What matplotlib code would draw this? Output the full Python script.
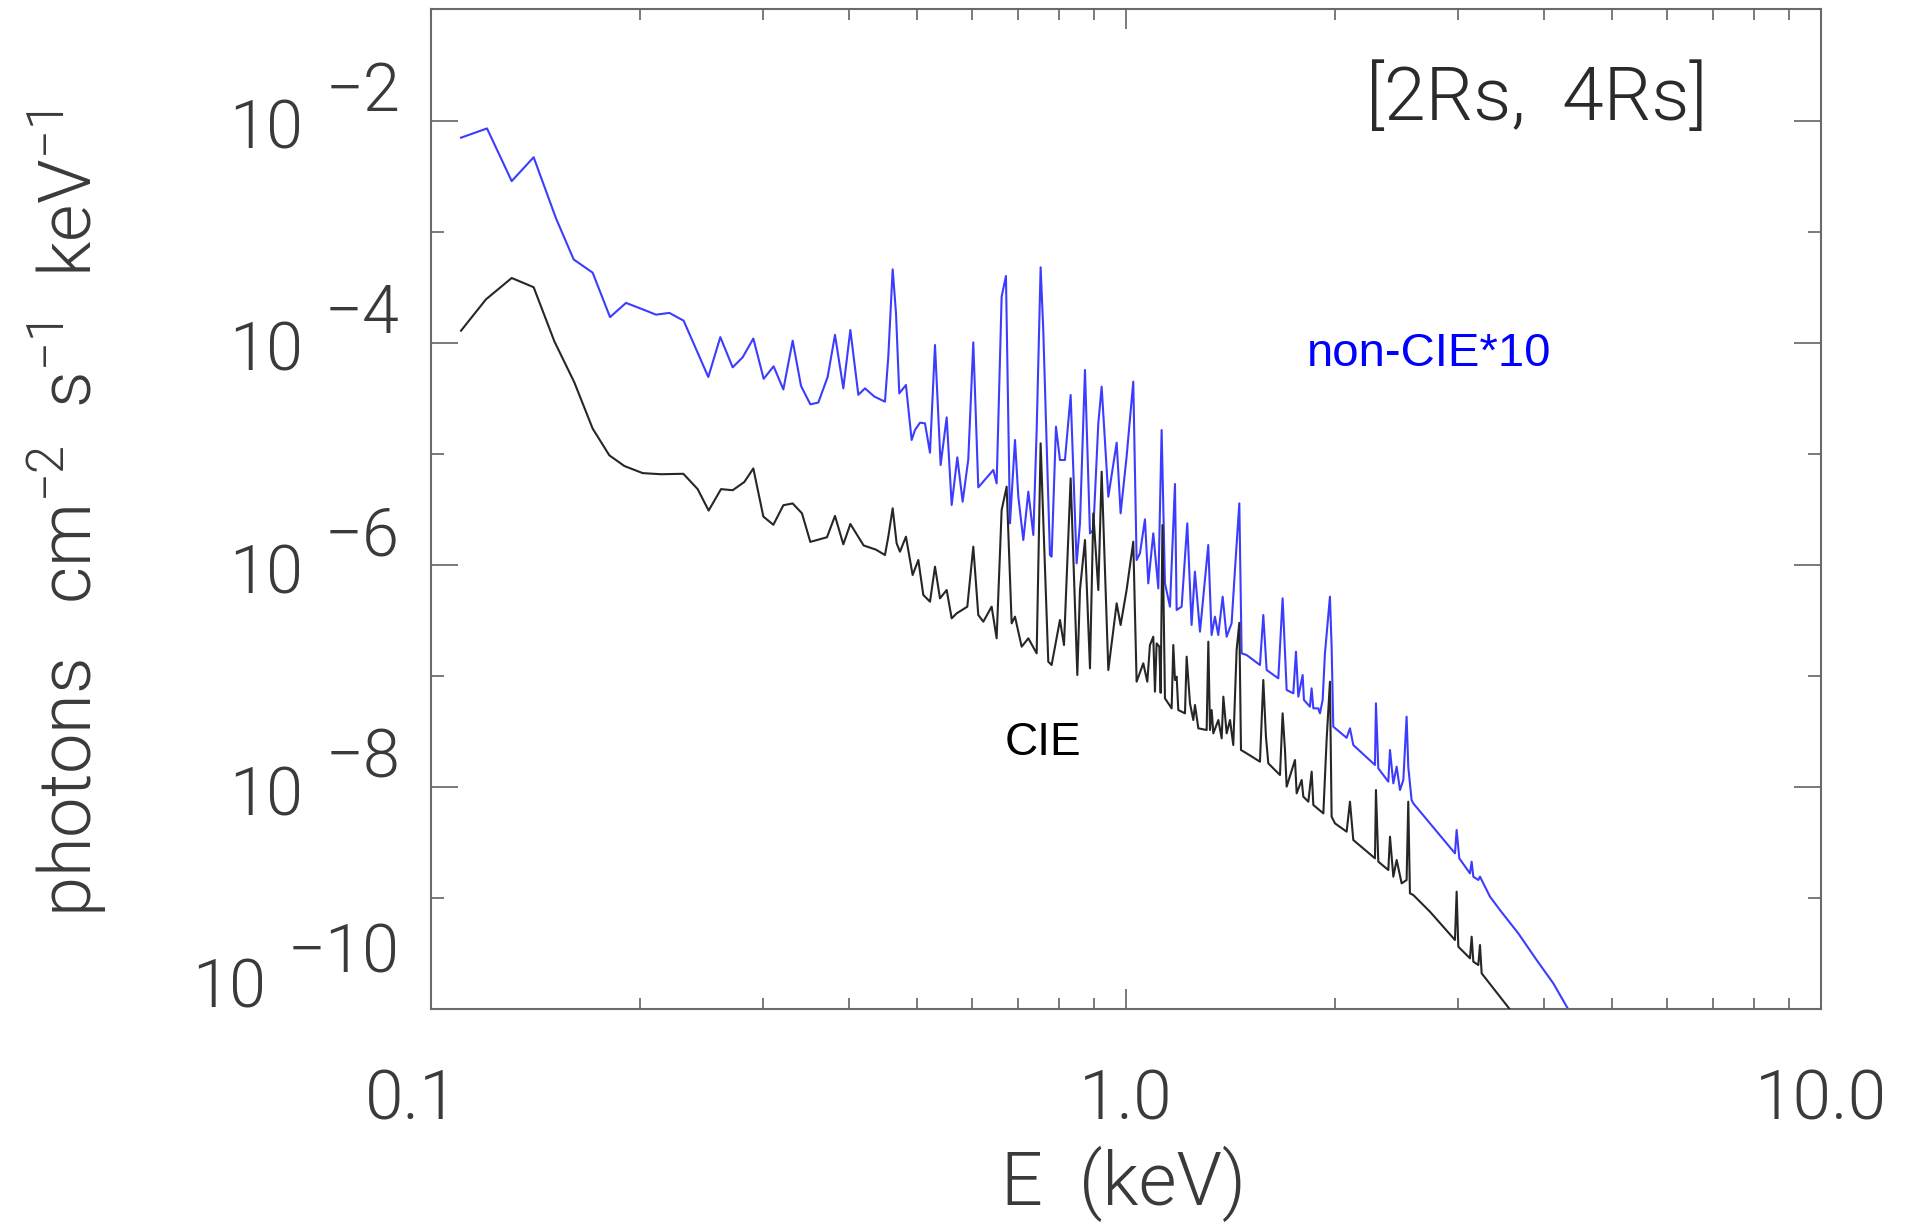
import matplotlib
matplotlib.use("Agg")
import matplotlib.pyplot as plt
from matplotlib import font_manager as fm
from matplotlib.ticker import FixedLocator, LogLocator, NullFormatter
import numpy as np

# spectra, stored as log10(E / keV) and log10(flux)
cie_log_e = [
    -0.9568, -0.9209, -0.8839, -0.8523, -0.8225, -0.7938, -0.7674, -0.7434, -0.7218, -0.6954,
    -0.6691, -0.6369, -0.6163, -0.6005, -0.5827, -0.5659, -0.5492, -0.5362, -0.5218, -0.5074,
    -0.4930, -0.4796, -0.4662, -0.4542, -0.4302, -0.4187, -0.4067, -0.3966, -0.3775, -0.3597,
    -0.3468, -0.3420, -0.3357, -0.3300, -0.3252, -0.3166, -0.3070, -0.2988, -0.2916, -0.2820,
    -0.2748, -0.2676, -0.2580, -0.2508, -0.2436, -0.2283, -0.2197, -0.2125, -0.2053, -0.1933,
    -0.1861, -0.1789, -0.1717, -0.1645, -0.1597, -0.1501, -0.1405, -0.1285, -0.1228, -0.1190,
    -0.1118, -0.1070, -0.0950, -0.0892, -0.0796, -0.0700, -0.0662, -0.0590, -0.0518, -0.0470,
    -0.0398, -0.0350, -0.0254, -0.0134, -0.0077, 0.0009, 0.0105, 0.0153, 0.0249, 0.0307,
    0.0345, 0.0393, 0.0417, 0.0441, 0.0480, 0.0499, 0.0525, 0.0561, 0.0657, 0.0681,
    0.0705, 0.0729, 0.0753, 0.0849, 0.0873, 0.0921, 0.0969, 0.0993, 0.1041, 0.1161,
    0.1185, 0.1209, 0.1233, 0.1257, 0.1329, 0.1377, 0.1401, 0.1449, 0.1497, 0.1544,
    0.1592, 0.1631, 0.1655, 0.1736, 0.1928, 0.1976, 0.2014, 0.2048, 0.2216, 0.2254,
    0.2288, 0.2312, 0.2432, 0.2456, 0.2528, 0.2552, 0.2624, 0.2672, 0.2696, 0.2840,
    0.2887, 0.2935, 0.2959, 0.3007, 0.3175, 0.3223, 0.3271, 0.3583, 0.3597, 0.3631,
    0.3775, 0.3799, 0.3847, 0.3895, 0.3967, 0.4038, 0.4062, 0.4086, 0.4134, 0.4374,
    0.4734, 0.4758, 0.4782, 0.4950, 0.4974, 0.4998, 0.5070, 0.5094, 0.5118, 0.5525,
]
cie_log_flux = [
    -3.891, -3.609, -3.417, -3.500, -3.987, -4.356, -4.772, -5.013, -5.109, -5.173,
    -5.183, -5.179, -5.317, -5.510, -5.317, -5.327, -5.253, -5.131, -5.564, -5.638,
    -5.462, -5.446, -5.535, -5.792, -5.750, -5.558, -5.814, -5.631, -5.824, -5.862,
    -5.910, -5.745, -5.490, -5.805, -5.880, -5.745, -6.090, -5.955, -6.270, -6.330,
    -6.015, -6.300, -6.225, -6.480, -6.435, -6.375, -5.835, -6.450, -6.510, -6.375,
    -6.660, -5.505, -5.295, -6.525, -6.465, -6.735, -6.660, -6.795, -4.905, -5.595,
    -6.870, -6.900, -6.495, -6.720, -5.220, -6.990, -6.225, -5.775, -6.930, -5.535,
    -6.225, -5.160, -6.945, -6.345, -6.540, -6.225, -5.790, -7.050, -6.885, -7.050,
    -6.720, -6.645, -7.140, -6.705, -6.735, -7.150, -5.640, -7.200, -7.290, -6.720,
    -7.035, -7.005, -7.305, -7.335, -6.825, -7.245, -7.395, -7.260, -7.470, -7.485,
    -6.690, -7.485, -7.305, -7.515, -7.395, -7.560, -7.185, -7.515, -7.395, -7.620,
    -6.765, -6.520, -7.665, -7.695, -7.770, -7.035, -7.545, -7.785, -7.890, -7.335,
    -7.665, -7.995, -7.755, -8.055, -7.935, -8.085, -8.130, -7.860, -8.160, -8.235,
    -7.575, -7.050, -8.265, -8.325, -8.400, -8.130, -8.475, -8.640, -8.025, -8.670,
    -8.745, -8.445, -8.805, -8.655, -8.865, -8.835, -8.130, -8.955, -8.970, -9.120,
    -9.375, -8.940, -9.435, -9.540, -9.345, -9.570, -9.600, -9.420, -9.675, -10.000,
]

# non-CIE spectrum, already multiplied by 10 as drawn
noncie_log_e = [
    -0.9568, -0.9194, -0.8839, -0.8523, -0.8201, -0.7947, -0.7674, -0.7424, -0.7194, -0.6930,
    -0.6763, -0.6571, -0.6365, -0.6010, -0.5837, -0.5659, -0.5516, -0.5362, -0.5213, -0.5070,
    -0.4930, -0.4796, -0.4676, -0.4542, -0.4427, -0.4293, -0.4187, -0.4067, -0.3966, -0.3851,
    -0.3755, -0.3621, -0.3468, -0.3420, -0.3357, -0.3309, -0.3262, -0.3166, -0.3084, -0.3036,
    -0.2964, -0.2892, -0.2820, -0.2748, -0.2667, -0.2580, -0.2508, -0.2427, -0.2350, -0.2269,
    -0.2197, -0.2125, -0.1909, -0.1861, -0.1789, -0.1727, -0.1669, -0.1597, -0.1549, -0.1477,
    -0.1405, -0.1333, -0.1285, -0.1228, -0.1190, -0.1094, -0.1070, -0.1007, -0.0950, -0.0878,
    -0.0796, -0.0710, -0.0662, -0.0590, -0.0518, -0.0470, -0.0398, -0.0350, -0.0254, -0.0134,
    -0.0077, 0.0009, 0.0105, 0.0153, 0.0201, 0.0273, 0.0321, 0.0393, 0.0465, 0.0513,
    0.0561, 0.0633, 0.0705, 0.0729, 0.0801, 0.0882, 0.0944, 0.0992, 0.1065, 0.1184,
    0.1232, 0.1280, 0.1328, 0.1391, 0.1448, 0.1520, 0.1568, 0.1631, 0.1664, 0.1736,
    0.1928, 0.1976, 0.2024, 0.2192, 0.2254, 0.2288, 0.2312, 0.2408, 0.2446, 0.2480,
    0.2542, 0.2561, 0.2647, 0.2671, 0.2696, 0.2767, 0.2791, 0.2830, 0.2863, 0.2897,
    0.2935, 0.2959, 0.2983, 0.3175, 0.3223, 0.3271, 0.3583, 0.3597, 0.3631, 0.3775,
    0.3799, 0.3847, 0.3895, 0.3943, 0.3991, 0.4038, 0.4062, 0.4110, 0.4134, 0.4734,
    0.4758, 0.4796, 0.4950, 0.4974, 0.4998, 0.5070, 0.5094, 0.5238, 0.5381, 0.5645,
    0.5909, 0.6149, 0.6365,
]
noncie_log_flux = [
    -2.154, -2.071, -2.545, -2.330, -2.881, -3.250, -3.369, -3.769, -3.641, -3.705,
    -3.747, -3.731, -3.801, -4.308, -3.949, -4.221, -4.131, -3.962, -4.324, -4.212,
    -4.420, -3.981, -4.388, -4.554, -4.538, -4.308, -3.929, -4.410, -3.885, -4.468,
    -4.410, -4.484, -4.530, -4.125, -3.339, -3.735, -4.455, -4.380, -4.875, -4.785,
    -4.719, -4.725, -4.989, -4.020, -5.100, -4.671, -5.460, -5.031, -5.430, -5.049,
    -3.996, -5.301, -5.145, -5.265, -3.585, -3.399, -5.625, -4.875, -5.385, -5.775,
    -5.340, -5.730, -4.785, -3.321, -3.885, -5.910, -5.925, -4.755, -5.055, -5.055,
    -4.470, -5.985, -5.625, -4.245, -5.715, -5.685, -4.725, -4.395, -5.385, -4.899,
    -5.535, -5.025, -4.350, -5.955, -5.895, -5.589, -6.165, -5.715, -6.210, -4.785,
    -6.165, -6.375, -5.271, -6.405, -6.375, -5.625, -6.540, -6.060, -6.600, -5.820,
    -6.630, -6.465, -6.630, -6.285, -6.645, -6.525, -6.045, -5.445, -6.795, -6.810,
    -6.900, -6.450, -6.945, -7.020, -6.300, -6.795, -7.125, -7.155, -6.780, -7.185,
    -6.990, -7.215, -7.275, -7.110, -7.290, -7.290, -7.335, -7.215, -6.795, -6.555,
    -6.285, -6.735, -7.455, -7.555, -7.470, -7.620, -7.800, -7.245, -7.830, -7.950,
    -7.665, -7.965, -7.815, -8.025, -7.935, -7.365, -7.815, -8.115, -8.145, -8.595,
    -8.385, -8.640, -8.775, -8.670, -8.805, -8.835, -8.805, -8.985, -9.105, -9.315,
    -9.555, -9.765, -10.000,
]

x_ticks = [0.1, 1.0, 10.0]
x_tick_labels = ["0.1", "1.0", "10.0"]
y_label_decades = [-2, -4, -6, -8, -10]
y_plain_decades = [-3, -5, -7, -9]


def light_font():
    # a thin face stands in for the stroked IDL lettering
    for fam in ["Roboto", "Lato", "Open Sans", "DejaVu Sans", "Noto Sans"]:
        for want in (300, 200, 100):
            for f in fm.fontManager.ttflist:
                w = f.weight if isinstance(f.weight, int) else fm.weight_dict.get(f.weight, 400)
                if f.name == fam and f.style == "normal" and w == want:
                    return f.fname, fam, want
    return None, "DejaVu Sans", 400


path, fam, weight = light_font()
plt.rcParams["mathtext.fontset"] = "custom"
plt.rcParams["mathtext.rm"] = f"{fam}:weight={weight}"
plt.rcParams["mathtext.it"] = f"{fam}:weight={weight}"
plt.rcParams["mathtext.default"] = "regular"


def lf(size):
    if path:
        return fm.FontProperties(fname=path, size=size)
    return fm.FontProperties(family=fam, size=size)


ink = "#3a3a3a"
fig = plt.figure(figsize=(19.19, 12.27), dpi=100)
ax = fig.add_axes([0.2246, 0.1773, 0.7243, 0.8150])

ax.plot(10 ** np.array(noncie_log_e), 10 ** np.array(noncie_log_flux), color="#3c3cff", lw=1.5, zorder=2)
ax.plot(10 ** np.array(cie_log_e), 10 ** np.array(cie_log_flux), color="#262626", lw=1.5, zorder=3)

ax.set_xscale("log")
ax.set_yscale("log")
ax.set_xlim(0.1, 10)
ax.set_ylim(1e-10, 1e-1)

ax.xaxis.set_major_locator(FixedLocator(x_ticks))
ax.xaxis.set_minor_locator(LogLocator(base=10, subs=range(2, 10)))
ax.yaxis.set_major_locator(FixedLocator([10.0 ** d for d in y_label_decades]))
ax.yaxis.set_minor_locator(FixedLocator([10.0 ** d for d in y_plain_decades]))
for a in (ax.xaxis, ax.yaxis):
    a.set_major_formatter(NullFormatter())
    a.set_minor_formatter(NullFormatter())

ax.tick_params(which="both", direction="in", top=True, right=True, color="#707070", width=1.3)
ax.tick_params(axis="x", which="major", length=14.4)
ax.tick_params(axis="x", which="minor", length=7.9)
ax.tick_params(axis="y", which="major", length=19.4)
ax.tick_params(axis="y", which="minor", length=9.4)
for s in ax.spines.values():
    s.set_color("#6a6a6a")
    s.set_linewidth(1.5)

fig.canvas.draw()
r = fig.canvas.get_renderer()

# y labels: "10" with a raised exponent of the same size
ytr = ax.get_yaxis_transform()
for d in y_label_decades:
    low = d == y_label_decades[-1]
    ex = ax.annotate("\u2212" + str(-d), xy=(0, 10.0 ** d), xycoords=ytr,
                     xytext=(-31, 37 if low else 10), textcoords="offset pixels",
                     ha="right", va="baseline", fontproperties=lf(48), color=ink)
    w = ex.get_window_extent(r).width
    ax.annotate("10", xy=(0, 10.0 ** d), xycoords=ytr,
                xytext=(-31 - w - 22, 2 if low else -28), textcoords="offset pixels",
                ha="right", va="baseline", fontproperties=lf(48), color=ink)

xtr = ax.get_xaxis_transform()
for v, t in zip(x_ticks, x_tick_labels):
    ax.annotate(t, xy=(v, 0), xycoords=xtr, xytext=(-19 if v == 0.1 else 0, -110),
                textcoords="offset pixels", ha="center", va="baseline",
                fontproperties=lf(50), color=ink)

fig.text(1123 / 1919, 22 / 1227, "E  (keV)", ha="center", va="baseline",
         fontproperties=lf(53), color=ink)
fig.text(67 / 1919, 1 - 514 / 1227, r"photons   cm$^{-2}$  s$^{-1}$  keV$^{-1}$",
         rotation=90, ha="center", va="center", fontproperties=lf(52), color=ink)

ax.text(0.7957, 0.9105, "[2Rs,  4Rs]", transform=ax.transAxes, ha="center", va="center",
        fontproperties=lf(54), color="#2a2a2a")
ax.text(0.630, 0.6435, "non-CIE*10", transform=ax.transAxes, ha="left", va="baseline",
        family="Liberation Sans", fontsize=34, color="#0000ff")
ax.text(0.413, 0.2545, "CIE", transform=ax.transAxes, ha="left", va="baseline",
        family="Liberation Sans", fontsize=33, color="black")

fig.savefig("out.png", dpi=100)
